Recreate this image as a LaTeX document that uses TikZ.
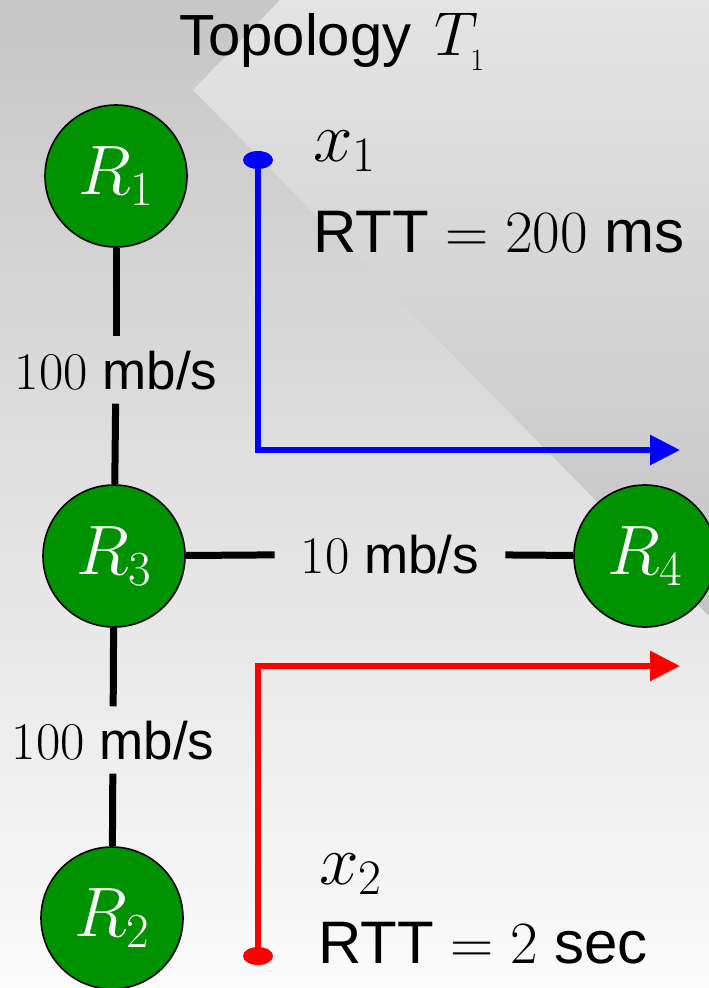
\RequirePackage{fix-cm}
\documentclass[tikz,border=0pt]{standalone}
\usepackage[no-math]{fontspec}
\setmainfont{Liberation Sans}
\usetikzlibrary{arrows.meta,shapes.geometric}
\definecolor{nodegreen}{RGB}{0,146,0}
\definecolor{bgtop}{RGB}{198,198,198}
\definecolor{bgmid}{RGB}{235,235,235}
\definecolor{bgbot}{RGB}{251,251,251}
\definecolor{ovtop}{RGB}{228,228,228}
\definecolor{ovbot}{RGB}{196,196,196}
\pgfdeclarelayer{bg}
\pgfdeclarelayer{edges}
\pgfsetlayers{bg,edges,main}
\begin{document}
\begin{tikzpicture}[x=1pt,y=-1pt,
  router/.style={circle,draw=black,line width=1.6pt,fill=nodegreen,minimum size=142pt,inner sep=0pt,text=white,font=\fontsize{70}{70}\selectfont},
  link/.style={line width=7pt,black},
  rate/.style={inner xsep=26pt,inner ysep=14pt,anchor=base,font=\fontsize{53}{53}\selectfont},
  info/.style={inner sep=0pt,anchor=base west,font=\fontsize{60}{60}\selectfont},
  bigmath/.style={inner sep=0pt,anchor=base west,font=\fontsize{71}{71}\selectfont},
  flow/.style={line width=6pt,-{Triangle[length=30pt,width=29pt]}},
  dot/.style={ellipse,minimum width=30pt,minimum height=18pt,inner sep=0pt}
]
\useasboundingbox (0,0) rectangle (709,988);
\clip (0,0) rectangle (709,988);
\begin{pgfonlayer}{bg}
\shade[top color=bgtop, middle color=bgmid, bottom color=bgbot] (0,0) rectangle (709,988);
\shade[top color=ovtop, bottom color=ovbot] (280,0) -- (709,0) -- (709,616) -- (193,90) -- cycle;
\end{pgfonlayer}

\node[router] (R1) at (116,176) {$R_1$};
\node[router] (R3) at (114,556) {$R_3$};
\node[router] (R4) at (645,556) {$R_4$};
\node[router] (R2) at (112,918) {$R_2$};

\node[rate] (l1) at (116,389) {$100$ mb/s};
\node[rate] (l2) at (113,759) {$100$ mb/s};
\node[rate] (l3) at (390,573) {$10$ mb/s};

\node[info,font=\fontsize{58}{58}\selectfont] (title) at (179,55) {Topology\hspace{7pt} {\fontsize{62}{62}\selectfont$T_{_1}$}};
\node[bigmath] (x1) at (313,161) {$x_1$};
\node[info] (rtt1) at (313,252) {RTT $= 200$ ms};
\node[bigmath] (x2) at (319,884) {$x_2$};
\node[info] (rtt2) at (318,963) {RTT $= 2$ sec};

\coordinate (e1) at (680,450);
\coordinate (e2) at (680,666);
\node[dot,fill=blue] (s1) at (258,160) {};
\node[dot,fill=red] (s2) at (258,956) {};

\begin{pgfonlayer}{edges}
\draw[link] (R1) -- (l1);
\draw[link] (l1) -- (R3);
\draw[link] (R3) -- (l3);
\draw[link] (l3) -- (R4);
\draw[link] (R3) -- (l2);
\draw[link] (l2) -- (R2);
\draw[flow,blue] (s1.center) |- (e1);
\draw[flow,red] (s2.center) |- (e2);
\end{pgfonlayer}
\end{tikzpicture}
\end{document}
